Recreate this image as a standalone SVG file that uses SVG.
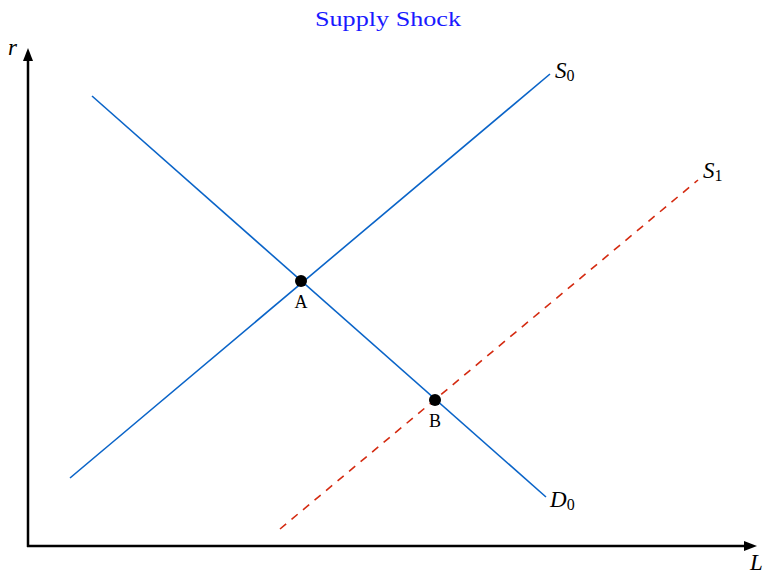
<svg xmlns="http://www.w3.org/2000/svg" width="769" height="575" viewBox="0 0 769 575">
<style>
.t{font-family:"Liberation Serif","DejaVu Serif",serif;}
.it{font-family:"Liberation Serif","DejaVu Serif",serif;font-style:italic;font-size:23px;fill:#000;}
.sub{font-style:normal;font-size:16px;}
.curve{fill:none;stroke:#0a64c8;stroke-width:1.6;}
.dash{fill:none;stroke:#d42a10;stroke-width:1.6;stroke-dasharray:8,7;}
.axis{stroke:#000;stroke-width:2.5;fill:none;}
</style>
<defs>
<marker id="arr" markerWidth="14" markerHeight="12" refX="4" refY="5" orient="auto" markerUnits="userSpaceOnUse">
<path d="M0,0 L13,5 L0,10 Z" fill="#000"/>
</marker>
</defs>
<rect width="769" height="575" fill="#fff"/>
<text class="t" x="315" y="26" font-size="21" fill="#1a1aff" textLength="146" lengthAdjust="spacingAndGlyphs">Supply Shock</text>
<g id="axes">
<line class="axis" x1="28" y1="547" x2="28" y2="57" marker-end="url(#arr)"/>
<line class="axis" x1="27" y1="546" x2="748" y2="546" marker-end="url(#arr)"/>
<text class="it" x="8" y="55">r</text>
<text class="it" x="750" y="570" font-size="22">L</text>
</g>
<g id="connectors">
<line id="S0" class="curve" x1="70" y1="478" x2="550" y2="74"/>
<line id="D0" class="curve" x1="92" y1="96" x2="546" y2="497"/>
<line id="S1" class="dash" x1="280" y1="529" x2="698" y2="180"/>
</g>
<g id="label-S0"><text class="it" x="555" y="78">S<tspan class="sub" dy="3">0</tspan></text></g>
<g id="label-S1"><text class="it" x="703" y="178">S<tspan class="sub" dy="3">1</tspan></text></g>
<g id="label-D0"><text class="it" x="550" y="507">D<tspan class="sub" dy="3">0</tspan></text></g>
<g id="A">
<circle cx="301" cy="281" r="6" fill="#000"/>
<text class="t" x="301" y="308" text-anchor="middle" font-size="18">A</text>
</g>
<g id="B">
<circle cx="435" cy="400" r="6" fill="#000"/>
<text class="t" x="435" y="427" text-anchor="middle" font-size="18">B</text>
</g>
</svg>
